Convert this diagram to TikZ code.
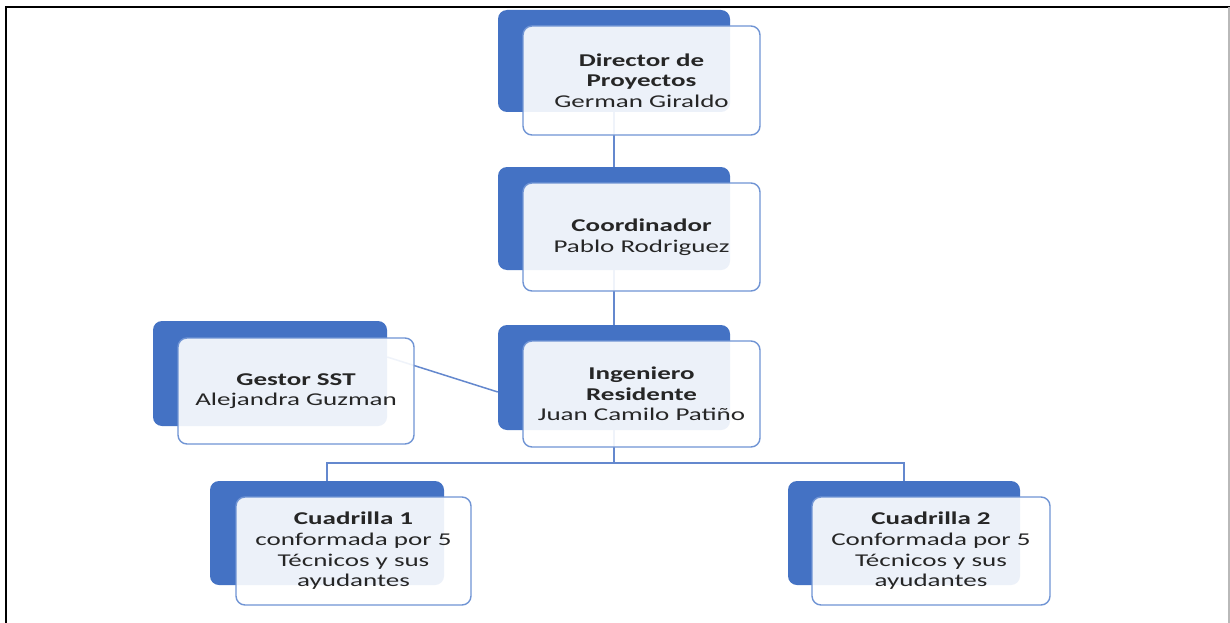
\documentclass[tikz,border=0pt]{standalone}
\usepackage{fontspec}
\setmainfont{Carlito}[FakeStretch=1.5]
\definecolor{backblue}{HTML}{4472C4}
\definecolor{edgeblue}{HTML}{7094D4}
\definecolor{linkblue}{HTML}{6488CE}
\definecolor{txt}{HTML}{262626}
\begin{document}
\begin{tikzpicture}[x=1pt,y=-1pt,
  backbox/.style={fill=backblue, draw=none, rounded corners=9pt, inner sep=0pt},
  frontbox/.style={fill=white, fill opacity=0.9, text opacity=1, draw=edgeblue, line width=1.4pt,
    rounded corners=9pt, align=center, inner sep=0pt, text=txt,
    font=\fontsize{18}{20.7}\selectfont},
  link/.style={draw=linkblue, line width=1.5pt}]
\useasboundingbox (0,0) rectangle (1230,623);
\fill[white] (0,0) rectangle (1230,623);
% frame
\draw[black, line width=2pt] (6,623) -- (6,7) -- (1230,7);
\draw[gray!55, line width=1.5pt] (1229,7) -- (1229,623);

% back boxes
\node[backbox, minimum width=232pt, minimum height=102pt] (dB) at (614,61) {};
\node[backbox, minimum width=232pt, minimum height=103pt] (cB) at (614,218.5) {};
\node[backbox, minimum width=232pt, minimum height=105pt] (iB) at (614,377.5) {};
\node[backbox, minimum width=234pt, minimum height=105pt] (gB) at (270,373.5) {};
\node[backbox, minimum width=234pt, minimum height=104pt] (q1B) at (327,533) {};
\node[backbox, minimum width=232pt, minimum height=104pt] (q2B) at (904,533) {};

% connectors (behind the front boxes)
\coordinate (bus) at (614,463);
\draw[link] (dB.south) -- (cB.north);
\draw[link] (cB.south) -- (iB.north);
\draw[link] (iB.south) -- (bus);
\draw[link] (q1B.north) |- (bus) -| (q2B.north);
\draw[link] ([yshift=16.5pt]gB.east) -- ([yshift=-14.5pt]iB.west);

% front boxes
\node[frontbox, minimum width=237pt, minimum height=109pt] (dF) at (641.5,80.5)
  {\textbf{Director de}\\\textbf{Proyectos}\\German Giraldo};
\node[frontbox, minimum width=237pt, minimum height=108pt] (cF) at (641.5,237)
  {\textbf{Coordinador}\\Pablo Rodriguez};
\node[frontbox, minimum width=237pt, minimum height=106pt] (iF) at (641.5,394)
  {\textbf{Ingeniero}\\\textbf{Residente}\\Juan Camilo Patiño};
\node[frontbox, minimum width=236pt, minimum height=106pt] (gF) at (296,391)
  {\textbf{Gestor SST}\\Alejandra Guzman};
\node[frontbox, minimum width=235pt, minimum height=108pt] (q1F) at (353.5,551)
  {\textbf{Cuadrilla 1}\\conformada por 5\\Técnicos y sus\\ayudantes};
\node[frontbox, minimum width=238pt, minimum height=108pt] (q2F) at (931,551)
  {\textbf{Cuadrilla 2}\\Conformada por 5\\Técnicos y sus\\ayudantes};
\end{tikzpicture}
\end{document}
